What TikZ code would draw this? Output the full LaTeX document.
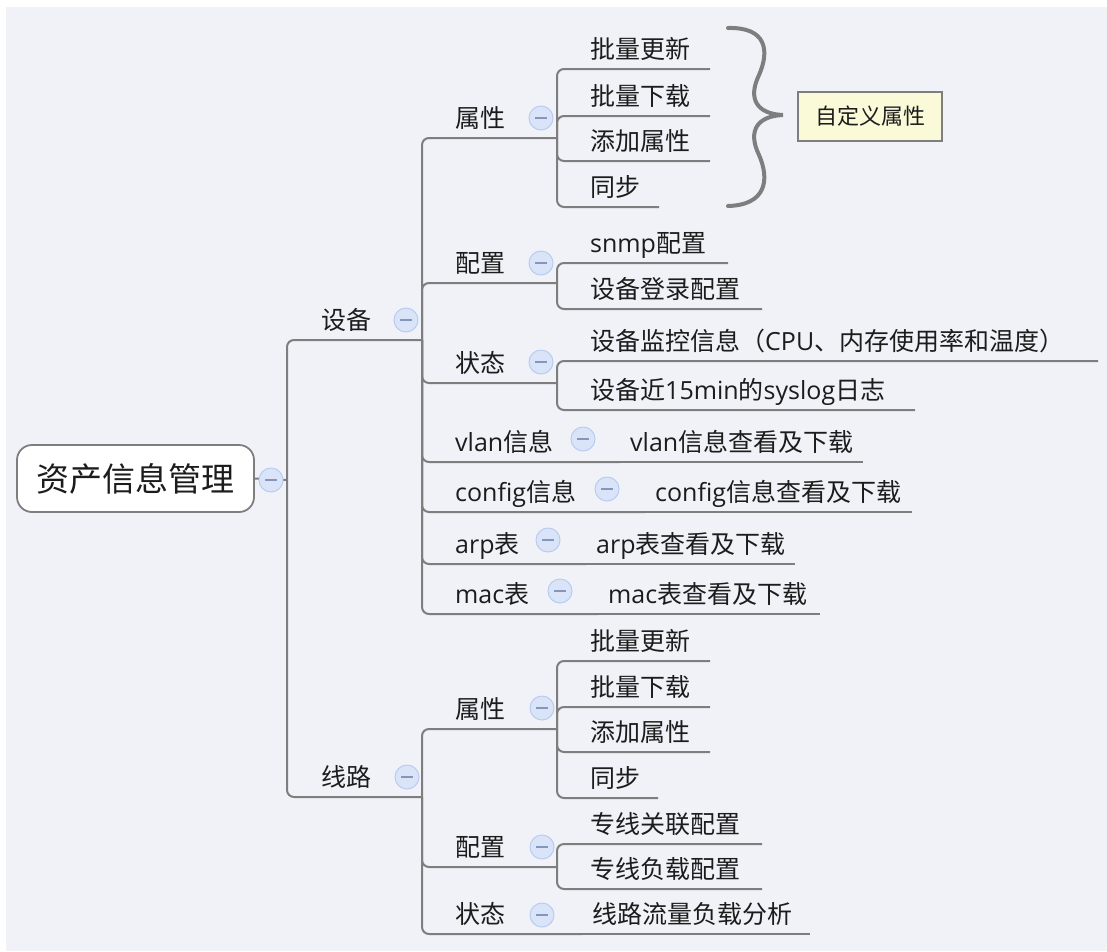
\documentclass[tikz,border=0pt]{standalone}
\usepackage{fontspec}
\setmainfont{Noto Sans CJK SC}
\newfontfamily\lat{Open Sans}
\definecolor{bg}{HTML}{F1F2F8}
\definecolor{linegray}{HTML}{7E7E7E}
\definecolor{txt}{HTML}{1C1C1C}
\definecolor{cfill}{HTML}{DAE4F8}
\definecolor{cborder}{HTML}{B9CCF0}
\definecolor{minusc}{HTML}{8595BC}
\definecolor{notefill}{HTML}{FAFAD8}
\tikzset{
  conn/.style={draw=linegray, line width=2pt, rounded corners=7pt},
  lbl/.style={anchor=base west, inner sep=0pt, font=\fontsize{25}{25}\selectfont, text=txt},
  coll/.style={circle, draw=cborder, fill=cfill, line width=1pt, minimum size=24pt, inner sep=0pt,
    path picture={\draw[minusc, line width=1.6pt] ([xshift=-6pt]path picture bounding box.center) -- ([xshift=6pt]path picture bounding box.center);}},
  rootbox/.style={draw=linegray, line width=1.8pt, fill=white, rounded corners=15pt, minimum width=237pt, minimum height=67pt, inner sep=0pt, font=\fontsize{33}{33}\selectfont, text=txt},
  notebox/.style={draw=linegray, line width=1.3pt, fill=notefill, minimum width=144pt, minimum height=49pt, inner sep=0pt, font=\fontsize{22}{22}\selectfont, text=txt},
}
\begin{document}
\begin{tikzpicture}[x=1pt,y=-1pt]
\useasboundingbox (0,0) rectangle (1107,951);
\fill[white] (0,0) rectangle (1107,951);
\fill[bg] (6,7) rectangle (1107,951);

% ---------- coordinates (line right ends / junctions) ----------
\coordinate (rj) at (287,480);
\coordinate (A-r) at (422,340);
\coordinate (B-r) at (422,797);
\coordinate (A1-r) at (557,138);
\coordinate (A2-r) at (557,283);
\coordinate (A3-r) at (557,383);
\coordinate (A4-r) at (620,462);
\coordinate (A5-r) at (645,512);
\coordinate (A6-r) at (586,564);
\coordinate (A7-r) at (598,614);
\coordinate (A1a-r) at (710,69);
\coordinate (A1b-r) at (710,116);
\coordinate (A1c-r) at (710,161);
\coordinate (A1d-r) at (659,207);
\coordinate (A2a-r) at (728,263);
\coordinate (A2b-r) at (762,309);
\coordinate (A3a-r) at (1098,361);
\coordinate (A3b-r) at (915,410);
\coordinate (A4a-r) at (863,462);
\coordinate (A5a-r) at (912,512);
\coordinate (A6a-r) at (795,564);
\coordinate (A7a-r) at (820,614);
\coordinate (B1-r) at (557,729);
\coordinate (B2-r) at (557,867);
\coordinate (B3-r) at (582,934);
\coordinate (B1a-r) at (710,661);
\coordinate (B1b-r) at (710,707);
\coordinate (B1c-r) at (710,752);
\coordinate (B1d-r) at (658,798);
\coordinate (B2a-r) at (762,844);
\coordinate (B2b-r) at (762,889);
\coordinate (B3a-r) at (810,934);

% ---------- root ----------
\node[rootbox] (root) at (135.5,478.5) {资产信息管理};

% ---------- connectors ----------
\draw[conn] (root.east) -- (rj);
\draw[conn] (rj) |- (A-r);
\draw[conn] (rj) |- (B-r);
\foreach \c in {A1,A2,A3,A4,A5,A6,A7} \draw[conn] (A-r) |- (\c-r);
\draw[conn] (A4-r) -- (A4a-r);
\draw[conn] (A5-r) -- (A5a-r);
\draw[conn] (A6-r) -- (A6a-r);
\draw[conn] (A7-r) -- (A7a-r);
\foreach \c in {A1a,A1b,A1c,A1d} \draw[conn] (A1-r) |- (\c-r);
\foreach \c in {A2a,A2b} \draw[conn] (A2-r) |- (\c-r);
\foreach \c in {A3a,A3b} \draw[conn] (A3-r) |- (\c-r);
\foreach \c in {B1,B2,B3} \draw[conn] (B-r) |- (\c-r);
\foreach \c in {B1a,B1b,B1c,B1d} \draw[conn] (B1-r) |- (\c-r);
\foreach \c in {B2a,B2b} \draw[conn] (B2-r) |- (\c-r);
\draw[conn] (B3-r) -- (B3a-r);

% ---------- collapse markers ----------
\node[coll] (rootc) at (271,480) {};
\node[coll] (Ac) at (406,320) {};
\node[coll] (Bc) at (407,777) {};
\node[coll] (A1c) at (541,118) {};
\node[coll] (A2c) at (541,263) {};
\node[coll] (A3c) at (541,362) {};
\node[coll] (A4c) at (583,439) {};
\node[coll] (A5c) at (607,489) {};
\node[coll] (A6c) at (548,540) {};
\node[coll] (A7c) at (560,591) {};
\node[coll] (B1c) at (542,708) {};
\node[coll] (B2c) at (542,847) {};
\node[coll] (B3c) at (542,915) {};

% ---------- labels (baseline = line y - 10.5) ----------
\node[lbl] (A) at (321,329.5) {设备};
\node[lbl] (B) at (321,786.5) {线路};
\node[lbl] (A1) at (455,127.5) {属性};
\node[lbl] (A2) at (455,272.5) {配置};
\node[lbl] (A3) at (455,372.5) {状态};
\node[lbl] (A4) at (455,451.5) {{\lat vlan}信息};
\node[lbl] (A5) at (455,501.5) {{\lat config}信息};
\node[lbl] (A6) at (455,553.5) {{\lat arp}表};
\node[lbl] (A7) at (455,603.5) {{\lat mac}表};
\node[lbl] (A1a) at (590,58.5) {批量更新};
\node[lbl] (A1b) at (590,105.5) {批量下载};
\node[lbl] (A1c) at (590,150.5) {添加属性};
\node[lbl] (A1d) at (590,196.5) {同步};
\node[lbl] (A2a) at (590,252.5) {{\lat snmp}配置};
\node[lbl] (A2b) at (590,298.5) {设备登录配置};
\node[lbl] (A3a) at (590,350.5) {设备监控信息（{\lat CPU}、内存使用率和温度）};
\node[lbl] (A3b) at (590,399.5) {设备近{\lat 15min}的{\lat syslog}日志};
\node[lbl] (A4a) at (630,451.5) {{\lat vlan}信息查看及下载};
\node[lbl] (A5a) at (655,501.5) {{\lat config}信息查看及下载};
\node[lbl] (A6a) at (596,553.5) {{\lat arp}表查看及下载};
\node[lbl] (A7a) at (608,603.5) {{\lat mac}表查看及下载};
\node[lbl] (B1) at (455,718.5) {属性};
\node[lbl] (B2) at (455,856.5) {配置};
\node[lbl] (B3) at (455,923.5) {状态};
\node[lbl] (B1a) at (590,650.5) {批量更新};
\node[lbl] (B1b) at (590,696.5) {批量下载};
\node[lbl] (B1c) at (590,741.5) {添加属性};
\node[lbl] (B1d) at (590,787.5) {同步};
\node[lbl] (B2a) at (590,833.5) {专线关联配置};
\node[lbl] (B2b) at (590,878.5) {专线负载配置};
\node[lbl] (B3a) at (592,923.5) {线路流量负载分析};

% ---------- summary brace and note ----------
\draw[linegray, line width=4pt, line cap=round]
  (728,28) .. controls (766,27) and (770,50) .. (759,75)
  .. controls (747,100) and (758,114) .. (783,115)
  .. controls (758,116) and (747,130) .. (759,155)
  .. controls (770,180) and (766,205) .. (728,206);
\node[notebox] (note) at (870,116.5) {自定义属性};
\end{tikzpicture}
\end{document}
